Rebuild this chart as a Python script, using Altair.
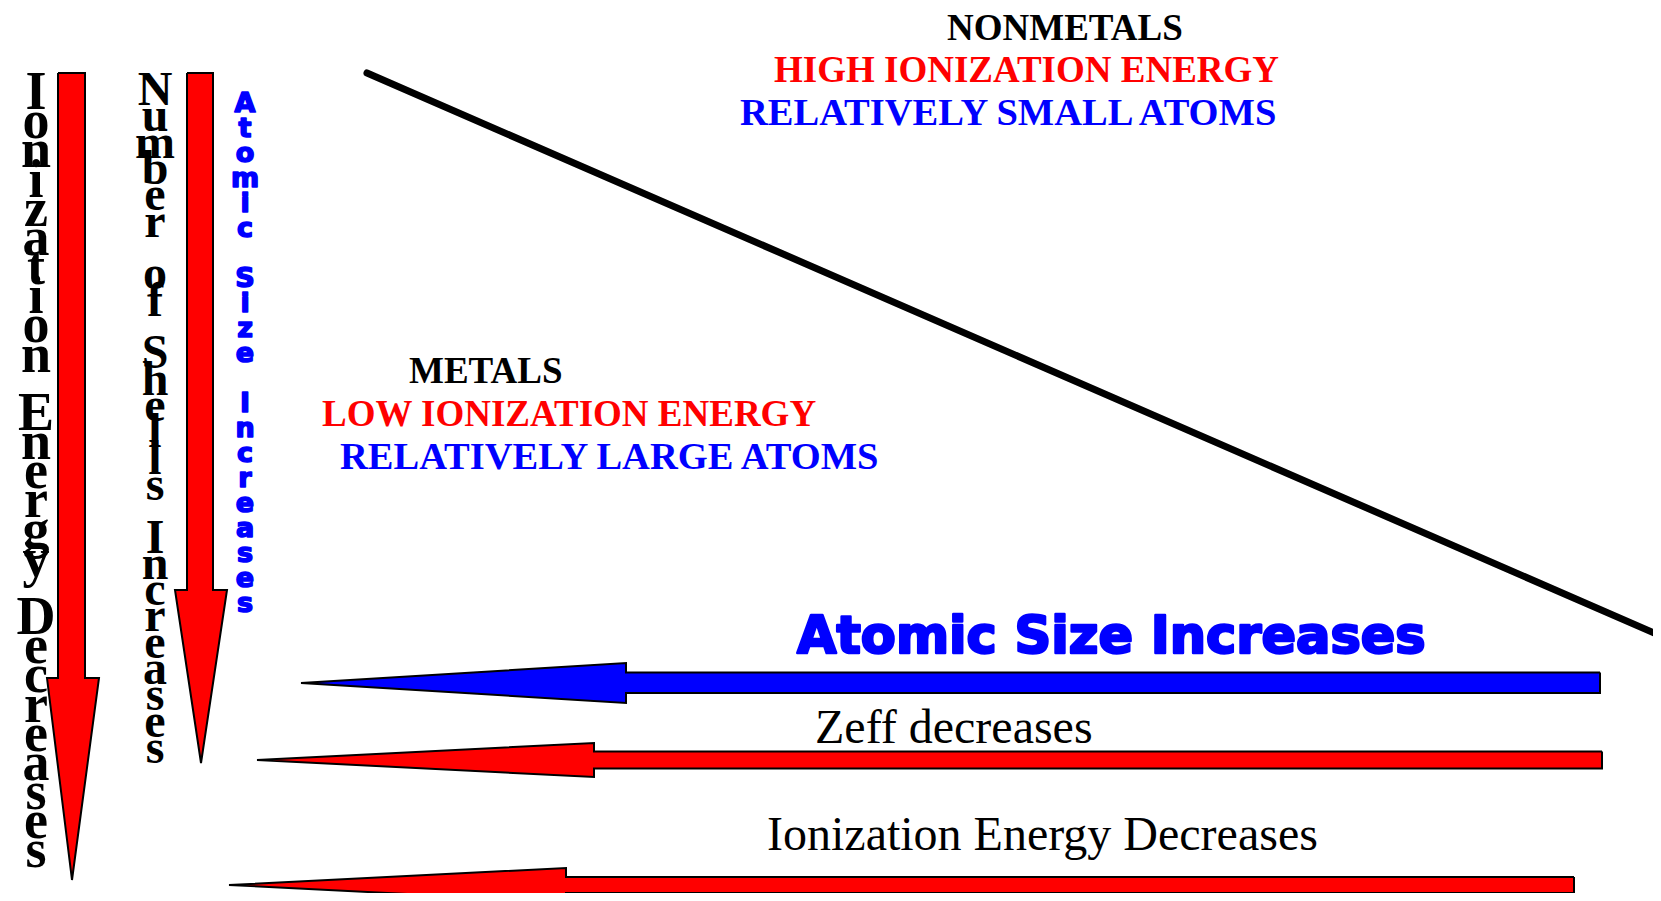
import altair as alt
import pandas as pd

# ---------------- content ----------------
header_texts = ["NONMETALS", "HIGH IONIZATION ENERGY", "RELATIVELY SMALL ATOMS",
                "METALS", "LOW IONIZATION ENERGY", "RELATIVELY LARGE ATOMS"]
header_colors = ["#000000", "#ff0000", "#0000ff", "#000000", "#ff0000", "#0000ff"]

trend_title = ["Atomic Size Increases"]
trend_labels = ["Zeff decreases", "Ionization Energy Decreases"]

vertical_labels = ["Ionization Energy Decreases", "Number of Shells Increases", "Atomic Size Increases"]

arrow_names = ["ie_down", "shells_down", "size_left", "zeff_left", "ie_left"]
arrow_fills = ["#ff0000", "#ff0000", "#0000ff", "#ff0000", "#ff0000"]

# ---------------- layout (pixel frame of the 1661x901 page) ----------------
header_xy = [(947, 39.5), (774, 82), (740, 125), (409, 383), (322, 425.5), (340, 468.5)]
header_font = [37, 37, 38.5, 37, 37, 38.5]
title_xy = [(797, 652.7)]
label_xy = [(815, 743), (767, 850)]
vertical_xy = [(36, 66.0), (155, 66.9), (245, 91.0)]

down_geom = {  # shaft x0, x1, top, head base, head x0, head x1, tip x, tip y
    "ie_down": (58, 85, 73, 678, 47, 99, 72, 880),
    "shells_down": (187, 213, 73, 590, 175, 227, 201, 763),
}
left_geom = {  # right, shaft y0, y1, head base x, head y0, head y1, tip x, tip y
    "size_left": (1600, 672.5, 693, 626, 663, 703, 301, 683),
    "zeff_left": (1602, 751.5, 768.5, 594, 743, 777, 257, 760),
    "ie_left": (1574, 877, 893, 566, 868, 902, 229, 885),
}
diag_line = [(367, 73), (1668, 639)]

W, H = 1645, 885
xs = alt.Scale(domain=[8, 8 + W], nice=False, zero=False)
ys = alt.Scale(domain=[8, 8 + H], nice=False, zero=False, reverse=True)
X = alt.X("x:Q", scale=xs, axis=None)
Y = alt.Y("y:Q", scale=ys, axis=None)


def down_arrow(sx0, sx1, top, hb, hx0, hx1, tx, ty):
    return [(sx0, top), (sx1, top), (sx1, hb), (hx1, hb), (tx, ty),
            (hx0, hb), (sx0, hb), (sx0, top)]


def left_arrow(r, sy0, sy1, hb, hy0, hy1, tx, ty):
    return [(r, sy0), (r, sy1), (hb, sy1), (hb, hy1), (tx, ty),
            (hb, hy0), (hb, sy0), (r, sy0)]


layers = []

# headers
hdf = pd.DataFrame({
    "text": header_texts, "color": header_colors, "size": header_font,
    "x": [p[0] for p in header_xy], "y": [p[1] for p in header_xy],
})
layers.append(alt.Chart(hdf).mark_text(
    font="Liberation Serif", fontWeight="bold",
    align="left", baseline="alphabetic"
).encode(x=X, y=Y, text="text:N", color=alt.Color("color:N", scale=None),
         size=alt.Size("size:Q", scale=None)))

# bold blue title over arrows
tdf = pd.DataFrame({"text": trend_title, "x": [title_xy[0][0]], "y": [title_xy[0][1]]})
layers.append(alt.Chart(tdf).mark_text(
    font="DejaVu Sans", fontSize=51, fontWeight="bold", color="#0000ff",
    stroke="#0000ff", strokeWidth=2.5, strokeJoin="round",
    align="left", baseline="alphabetic"
).encode(x=X, y=Y, text="text:N"))

# serif labels
ldf = pd.DataFrame({"text": trend_labels,
                    "x": [p[0] for p in label_xy], "y": [p[1] for p in label_xy]})
layers.append(alt.Chart(ldf).mark_text(
    font="Liberation Serif", fontSize=48, color="#000000",
    align="left", baseline="alphabetic"
).encode(x=X, y=Y, text="text:N"))

# vertical stacked labels: one stacked block per word, a blank line per space
vstyles = [
    dict(font="Liberation Serif", fontSize=54, fontWeight="bold", color="#000000"),
    dict(font="Liberation Serif", fontSize=48, fontWeight="bold", color="#000000"),
    dict(font="DejaVu Sans", fontSize=27, fontWeight="bold", color="#0000ff",
         stroke="#0000ff", strokeWidth=1.6, strokeJoin="round"),
]
vline = [29.17, 26.33, 25.0]
for lab, (vx, vy), st, lh in zip(vertical_labels, vertical_xy, vstyles, vline):
    rows = []
    idx = 0
    for word in lab.split(" "):
        rows.append({"text": "\n".join(word), "x": vx, "y": vy + idx * lh})
        idx += len(word) + 1
    vdf = pd.DataFrame(rows)
    layers.append(alt.Chart(vdf).mark_text(
        align="center", baseline="top", lineBreak="\n", lineHeight=lh, **st
    ).encode(x=X, y=Y, text="text:N"))

# arrows
for name, fill in zip(arrow_names, arrow_fills):
    if name in down_geom:
        pts = down_arrow(*down_geom[name])
    else:
        pts = left_arrow(*left_geom[name])
    adf = pd.DataFrame({"x": [p[0] for p in pts], "y": [p[1] for p in pts],
                        "i": list(range(len(pts)))})
    layers.append(alt.Chart(adf).mark_line(
        fill=fill, stroke="#000000", strokeWidth=2, strokeJoin="miter"
    ).encode(x=X, y=Y, order="i:Q"))

# diagonal divider
ddf = pd.DataFrame({"x": [p[0] for p in diag_line], "y": [p[1] for p in diag_line],
                    "i": [0, 1]})
layers.append(alt.Chart(ddf).mark_line(
    color="#000000", strokeWidth=7, strokeCap="round"
).encode(x=X, y=Y, order="i:Q"))

chart = alt.layer(*layers).properties(
    width=W, height=H, padding=0,
    autosize=alt.AutoSizeParams(type="none"), background="white"
).configure_view(strokeWidth=0)

chart.save("out.html", embed_options={"renderer": "svg", "actions": False})
